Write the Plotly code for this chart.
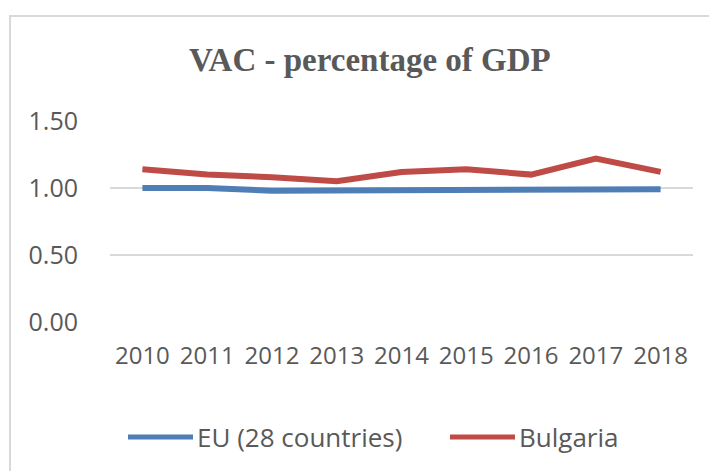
import plotly.graph_objects as go

years = ["2010", "2011", "2012", "2013", "2014", "2015", "2016", "2017", "2018"]
eu_values = [1.00, 1.00, 0.98, 0.98, 0.99, 0.98, 0.98, 0.99, 0.99]
bg_values = [1.14, 1.10, 1.08, 1.05, 1.12, 1.14, 1.10, 1.22, 1.12]
y_ticks = [0.0, 0.5, 1.0, 1.5]
y_tick_labels = ["0.00", "0.50", "1.00", "1.50"]

W, H = 717, 471
OFF = 8  # page body margin
EU_COLOR = "#4f7db5"
BG_COLOR = "#bf4b47"
TXT = "#595959"
FONT = "Open Sans"

def px(x):
    return (x - OFF) / W

def py(y):
    return (H - (y - OFF)) / H

fig = go.Figure()
fig.add_trace(go.Scatter(x=years, y=eu_values, mode="lines", name="EU (28 countries)",
                         line=dict(color=EU_COLOR, width=6)))
fig.add_trace(go.Scatter(x=years, y=bg_values, mode="lines", name="Bulgaria",
                         line=dict(color=BG_COLOR, width=6)))

fig.update_layout(
    width=W, height=H,
    margin=dict(l=0, r=0, t=0, b=0),
    paper_bgcolor="white", plot_bgcolor="white",
    showlegend=False,
    font=dict(family=FONT, color=TXT),
    xaxis=dict(domain=[px(110), px(693)], type="category", range=[-0.5, 8.5],
               showgrid=False, zeroline=False, showline=False,
               ticks="outside", ticklen=12, tickcolor="rgba(0,0,0,0)",
               tickfont=dict(size=24, color=TXT, family=FONT), automargin=False),
    yaxis=dict(domain=[py(322), py(121)], range=[0, 1.5],
               tickvals=y_ticks, ticktext=y_tick_labels,
               showgrid=True, gridcolor="#d9d9d9", gridwidth=2,
               zeroline=False, showline=False,
               ticks="outside", ticklen=26, tickcolor="rgba(0,0,0,0)",
               tickfont=dict(size=25, color=TXT, family=FONT), automargin=False),
)

# chart border
fig.add_shape(type="rect", xref="paper", yref="paper",
              x0=px(10), x1=px(713), y0=py(490), y1=py(16),
              line=dict(color="#d9d9d9", width=2), fillcolor="rgba(0,0,0,0)", layer="below")

# title
fig.add_annotation(text="<b>VAC - percentage of GDP</b>", xref="paper", yref="paper",
                   x=px(370), y=py(60), xanchor="center", yanchor="middle", showarrow=False,
                   font=dict(family="Liberation Serif", size=33, color=TXT))

# legend
leg_y = py(437)
for x0, x1, color, label in [(128, 193, EU_COLOR, "EU (28 countries)"),
                             (450, 515, BG_COLOR, "Bulgaria")]:
    fig.add_shape(type="line", xref="paper", yref="paper", x0=px(x0), x1=px(x1),
                  y0=leg_y, y1=leg_y, line=dict(color=color, width=5))
    fig.add_annotation(text=label, xref="paper", yref="paper", x=px(x1 + 2), y=leg_y,
                       xanchor="left", yanchor="middle", showarrow=False,
                       font=dict(family=FONT, size=26, color=TXT))

fig.write_html("out.html")
